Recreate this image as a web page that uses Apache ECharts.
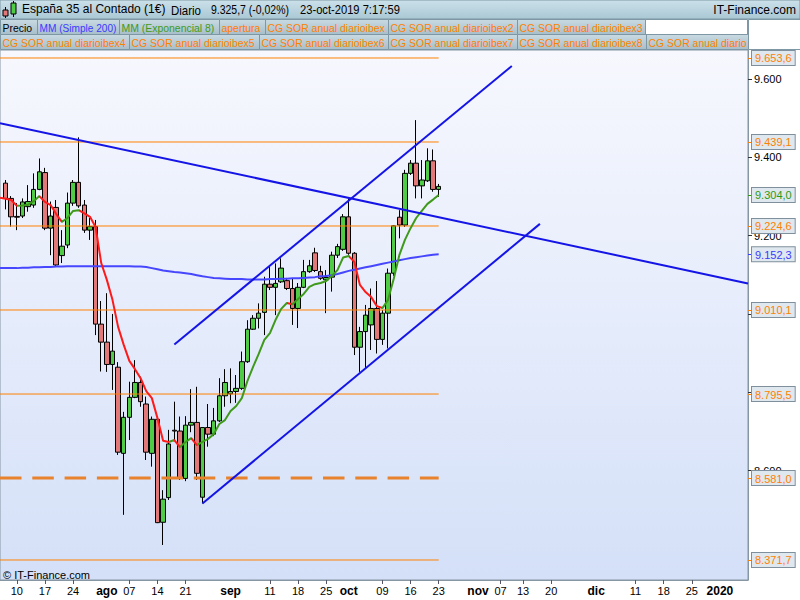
<!DOCTYPE html>
<html><head><meta charset="utf-8">
<script src="https://cdn.jsdelivr.net/npm/echarts@6/dist/echarts.min.js"></script>
<style>html,body{margin:0;padding:0;background:#fff}#c{width:800px;height:600px}</style>
</head><body><div id="c"></div>
<script>
// ---------- DATA ----------
const axisFirstDay = '2019-07-05';
const axisLastDay = '2020-01-08';
const candleFirstDay = '2019-07-08';
const maFirstDay = '2019-07-05';
const lastCandleDay = '2019-10-23';

const open = [9334,9295,9249,9250,9274,9278,9318,9361,9219,9272,
 9149,9176,9283,9336,9278,9214,9223,8974,8928,8871,
 8864,8644,8736,8787,8825,8770,8644,8731,8468,8531,
 8703,8701,8580,8716,8723,8532,8710,8693,8727,8791,
 8796,8802,8810,8878,8961,8989,9004,9076,9068,9082,
 9085,9065,9014,9068,9108,9156,9108,9087,9094,9150,
 9165,9248,9155,8915,8955,8972,9014,8935,9002,9104,
 9247,9227,9359,9385,9327,9340,9391,9318];
const close = [9295,9248,9247,9286,9287,9318,9363,9219,9250,9125,
 9173,9283,9336,9276,9214,9223,8974,8928,8871,8905,
 8647,8736,8787,8825,8776,8647,8731,8467,8527,8668,
 8701,8582,8716,8723,8593,8710,8693,8727,8791,8825,
 8802,8810,8878,8961,8989,9002,9076,9068,9078,9117,
 9065,9014,9068,9108,9123,9111,9091,9093,9150,9172,
 9248,9155,8915,8955,8997,9014,8935,9002,9104,9225,
 9227,9359,9385,9327,9342,9391,9318,9325.7];
const high = [9342,9301,9283,9295,9329,9359,9397,9373,9287,9291,
 9214,9310,9342,9451,9291,9245,9240,9033,9053,9000,
 8877,8750,8827,8882,8840,8789,8738,8739,8550,8704,
 8776,8738,8739,8808,8814,8711,8770,8760,8836,8859,
 8861,8844,8904,8984,8997,9027,9095,9121,9129,9142,
 9092,9091,9079,9138,9138,9169,9123,9112,9159,9179,
 9255,9295,9158,8967,9023,9065,9084,9010,9116,9227,
 9265,9368,9393,9495,9393,9423,9420,9332];
const low = [9267,9223,9214,9245,9261,9271,9316,9214,9150,9120,
 9130,9168,9276,9271,9207,9189,8946,8853,8852,8806,
 8640,8487,8678,8785,8763,8627,8610,8466,8410,8525,
 8678,8576,8573,8698,8576,8516,8661,8688,8724,8763,
 8772,8773,8806,8875,8959,8963,8946,9061,8997,9079,
 9061,8972,8964,9066,9105,9107,9087,9002,9057,9143,
 9161,9151,8895,8852,8861,8908,8899,8921,8912,9097,
 9193,9222,9355,9295,9295,9337,9312,9299];
const sma200 = [9117,9117,9117,9117,9118,9118,9119,9119,9120,9120,9121,
 9121,9122,9122,9122,9122,9122,9122,9122,9122,9122,
 9122,9122,9122,9121,9121,9120,9117,9114,9111,9109,
 9107,9106,9104,9102,9099,9096,9094,9092,9091,9090,
 9089,9089,9089,9088,9088,9088,9088,9089,9089,9090,
 9090,9091,9091,9092,9093,9094,9096,9097,9099,9102,
 9106,9110,9113,9116,9119,9122,9125,9128,9131,9134,
 9137,9140,9143,9145,9147,9149,9151,9152.3];
const ema8 = [9297,9294,9291,9276,9277,9279,9288,9301,9286,9278,9255,
 9235,9245,9263,9265,9257,9248,9222,9130,9087,9036,
 8967,8921,8880,8859,8836,8803,8785,8734,8676,8673,
 8678,8660,8673,8683,8665,8673,8681,8693,8719,8729,
 8752,8765,8785,8829,8865,8898,8934,8951,8985,9013,
 9028,9025,9038,9051,9069,9076,9079,9084,9097,9112,
 9144,9148,9133,9074,9056,9043,9020,9015,9036,9089,
 9150,9189,9219,9245,9263,9281,9292,9304];

const levels = [9653.6, 9439.1, 9224.6, 9010.1, 8795.5, 8581.0, 8371.7];
const dashedLevel = 8581.0;
const trendLines = [
  [['2019-07-05', 9487], ['2020-01-08', 9078]],
  [['2019-08-19', 8922], ['2019-11-11', 9633]],
  [['2019-08-26', 8516], ['2019-11-18', 9230]]
];
const yTickValues = [8600, 8800, 9000, 9200, 9400, 9600];
const yLabelValues = [8600, 9200, 9400, 9600];
const xTickDates = ['2019-07-10','2019-07-17','2019-07-24','2019-08-01','2019-08-07','2019-08-14','2019-08-21',
 '2019-09-02','2019-09-11','2019-09-18','2019-09-25','2019-10-01','2019-10-09','2019-10-16','2019-10-23',
 '2019-11-01','2019-11-07','2019-11-13','2019-11-20','2019-12-02','2019-12-11','2019-12-18','2019-12-25','2020-01-01'];
const xTickLabels = ['10','17','24','ago','07','14','21','sep','11','18','25','oct','09','16','23',
 'nov','07','13','20','dic','11','18','25','2020'];
const boldTickLabels = ['ago','sep','oct','nov','dic','2020'];

const headerTitle = 'España 35 al Contado (1€)';
const headerParts = ['Diario', '9.325,7 (-0,02%)', '23-oct-2019 7:17:59'];
const legendRow1 = [['Precio','#000000'],['MM (Simple 200)','#3a3aff'],['MM (Exponencial 8)','#3f9a1c'],['apertura','#ff8000'],
 ['CG SOR anual diarioibex','#ff8000'],['CG SOR anual diarioibex2','#ff8000'],['CG SOR anual diarioibex3','#ff8000']];
const legendRow2 = [['CG SOR anual diarioibex4','#ff8000'],['CG SOR anual diarioibex5','#ff8000'],['CG SOR anual diarioibex6','#ff8000'],
 ['CG SOR anual diarioibex7','#ff8000'],['CG SOR anual diarioibex8','#ff8000'],['CG SOR anual diarioibex9','#ff8000']];

// ---------- BUILD ----------
const FONT = '"Liberation Sans", Arial, sans-serif';
const mctx = document.createElement('canvas').getContext('2d');
function textW(t, font) { mctx.font = font; return mctx.measureText(t).width; }
function weekdays(a, b) {
  const out = []; let d = new Date(a + 'T00:00:00Z'); const e = new Date(b + 'T00:00:00Z');
  while (d <= e) { const w = d.getUTCDay(); if (w !== 0 && w !== 6) out.push(d.toISOString().slice(0, 10)); d = new Date(d.getTime() + 86400000); }
  return out;
}
const cats = weekdays(axisFirstDay, axisLastDay);
const cOff = cats.indexOf(candleFirstDay);
const mOff = cats.indexOf(maFirstDay);
const pad = (arr, off) => cats.map((c, i) => (i - off >= 0 && i - off < arr.length) ? arr[i - off] : '-');
const candleData = cats.map((c, i) => { const k = i - cOff; return (k >= 0 && k < open.length) ? [open[k], close[k], low[k], high[k]] : '-'; });

const fmtInt = v => String(Math.round(v)).replace(/\B(?=(\d{3})+(?!\d))/g, '.');
const fmtDec = v => { const s = v.toFixed(1).split('.'); return s[0].replace(/\B(?=(\d{3})+(?!\d))/g, '.') + ',' + s[1]; };

// EMA colour pieces by slope
const emaPieces = [];
for (let k = 0; k < ema8.length - 1; k++) {
  const col = ema8[k + 1] >= ema8[k] ? '#3f9a1c' : '#ff1a1a';
  const a = k + mOff, b = k + 1 + mOff;
  const last = emaPieces[emaPieces.length - 1];
  if (last && last.color === col) last.lte = b; else emaPieces.push({ gte: a, lte: b, color: col });
}

const tickMap = {}; xTickDates.forEach((d, i) => tickMap[d] = xTickLabels[i]);

const YMIN = 8320.6, YMAX = 9674.0;
const boxRich = (c) => ({ color: c, fontSize: 11, fontFamily: FONT, backgroundColor: '#dfe7ef', borderColor: '#7f909c', borderWidth: 1, padding: [2, 3, 1, 3], lineHeight: 11 });
function boxAxis(values, color) {
  return { type: 'value', position: 'right', min: YMIN, max: YMAX, splitLine: { show: false }, axisLine: { show: false },
    axisTick: { show: true, customValues: values, length: 4, lineStyle: { color: color } },
    axisLabel: { customValues: values, margin: 4, formatter: v => '{b|' + fmtDec(v) + '}', rich: { b: boxRich(color) } } };
}

const series = [];
series.push({ type: 'candlestick', data: candleData, barWidth: 5, z: 2,
  itemStyle: { color: '#4fcb45', color0: '#e27878', borderColor: '#000', borderColor0: '#000', borderWidth: 1 } });
levels.forEach(v => {
  const dashed = v === dashedLevel;
  series.push({ type: 'line', data: [[axisFirstDay, v], [lastCandleDay, v]], symbol: 'none', silent: true, z: 3,
    lineStyle: { color: dashed ? '#e8822c' : '#ff8000', width: dashed ? 3 : 1, type: dashed ? [21.5, 10.8] : 'solid' } });
});
series.push({ type: 'line', data: pad(sma200, mOff), symbol: 'none', z: 4, lineStyle: { color: '#4646ff', width: 2 } });
series.push({ type: 'line', data: pad(ema8, mOff), symbol: 'none', z: 5, lineStyle: { width: 2 } });
const emaSeriesIndex = series.length - 1;
trendLines.forEach(t => series.push({ type: 'line', data: t, symbol: 'none', z: 6, lineStyle: { color: '#1414e6', width: 2 } }));

// graphic (header, legend boxes)
const grad = (a, b) => new echarts.graphic.LinearGradient(0, 0, 0, 1, [{ offset: 0, color: a }, { offset: 1, color: b }]);
const graphics = [];
graphics.push({ type: 'rect', shape: { x: 0, y: 0, width: 800, height: 19 }, style: { fill: grad('#cce1ea', '#a9c7d4'), stroke: '#7d97a4', lineWidth: 1 }, z: 1 });
// candle icon
graphics.push({ type: 'line', shape: { x1: 5.5, y1: 7, x2: 5.5, y2: 18 }, style: { stroke: '#000', lineWidth: 1 }, z: 2 });
graphics.push({ type: 'rect', shape: { x: 3, y: 10, width: 5, height: 6 }, style: { fill: '#e27878', stroke: '#000', lineWidth: 1 }, z: 3 });
graphics.push({ type: 'line', shape: { x1: 13.5, y1: 1, x2: 13.5, y2: 17 }, style: { stroke: '#000', lineWidth: 1 }, z: 2 });
graphics.push({ type: 'rect', shape: { x: 11, y: 3, width: 5, height: 11 }, style: { fill: '#4fcb45', stroke: '#000', lineWidth: 1 }, z: 3 });
const hFont = '12px ' + FONT;
const hx = [171, 211, 300], hw = [30, 78, 100];
headerParts.forEach((t, i) => {
  const s = Math.min(1, hw[i] / textW(t, hFont));
  graphics.push({ type: 'text', x: hx[i], y: 10, scaleX: s, style: { text: t, fill: '#000', font: hFont, verticalAlign: 'middle' }, z: 4 });
});
graphics.push({ type: 'text', x: 796, y: 10, style: { text: 'IT-Finance.com', fill: '#000', font: hFont, align: 'right', verticalAlign: 'middle' }, z: 4 });
const lFont = '11px ' + FONT;
const row1x = [0, 37, 119, 219, 265, 388, 517], row1w = [37, 82, 100, 46, 123, 129, 128];
const row2x = [0, 129, 259, 388, 517, 646], row2w = [129, 130, 129, 129, 129, 102];
function legendBox(item, x, w, y, clipOnly) {
  graphics.push({ type: 'rect', shape: { x: x + 0.5, y: y + 0.5, width: w, height: 15 }, style: { fill: grad('#c9dae2', '#a7bfca'), stroke: '#7d97a4', lineWidth: 1 }, z: 5 });
  const s = clipOnly ? 0.95 : Math.min(0.95, (w - 5) / textW(item[0], lFont));
  graphics.push({ type: 'text', x: x + 2.5, y: y + 8.5, scaleX: s, style: { text: item[0], fill: item[1], font: lFont, verticalAlign: 'middle', width: (w - 2) / s, overflow: 'truncate', ellipsis: '' }, z: 6 });
}
legendRow1.forEach((it, i) => legendBox(it, row1x[i], row1w[i], 19, false));
legendRow2.forEach((it, i) => legendBox(it, row2x[i], row2w[i], 34, i === legendRow2.length - 1));
graphics.push({ type: 'rect', shape: { x: 645.5, y: 19.5, width: 102, height: 15 }, style: { fill: '#ffffff', stroke: '#7d97a4', lineWidth: 1 }, z: 5 });
graphics.push({ type: 'rect', shape: { x: 748.5, y: 19.5, width: 52, height: 30 }, style: { fill: '#ffffff', stroke: '#7d97a4', lineWidth: 1 }, z: 7 });
graphics.push({ type: 'text', x: 3, y: 575, style: { text: '© IT-Finance.com', fill: '#000', font: '11px ' + FONT, verticalAlign: 'middle' }, z: 100 });

const option = {
  animation: false,
  backgroundColor: '#ffffff',
  title: { text: headerTitle, left: 22, top: 3, padding: 0, textStyle: { fontSize: 12, fontWeight: 'normal', color: '#000', fontFamily: FONT } },
  grid: { left: 0, right: 52, top: 50, bottom: 20, show: true, borderColor: '#8696a3', borderWidth: 1,
    backgroundColor: grad('#f7f8fe', '#d4e0f8') },
  xAxis: { type: 'category', data: cats, boundaryGap: false,
    axisLine: { show: true, lineStyle: { color: '#8696a3' } },
    axisTick: { show: true, length: 4, interval: (i, v) => tickMap[v] !== undefined && boldTickLabels.indexOf(tickMap[v]) < 0, lineStyle: { color: '#556' } },
    axisLabel: { interval: (i, v) => tickMap[v] !== undefined, margin: 5, color: '#000', fontSize: 11, fontFamily: FONT,
      formatter: v => { const t = tickMap[v]; return boldTickLabels.indexOf(t) >= 0 ? '{m|' + t + '}' : t; },
      rich: { m: { fontWeight: 'bold', fontSize: 12, fontFamily: FONT, color: '#000' } } },
    splitLine: { show: false } },
  yAxis: [
    { type: 'value', position: 'right', min: YMIN, max: YMAX, splitLine: { show: false },
      axisLine: { show: true, lineStyle: { color: '#8696a3' } },
      axisTick: { show: true, customValues: yTickValues, length: 4, lineStyle: { color: '#333' } },
      axisLabel: { customValues: yLabelValues, margin: 6, color: '#000', fontSize: 11, fontFamily: FONT, formatter: v => fmtInt(v) } },
    boxAxis(levels, '#ff8000'),
    boxAxis([ema8[ema8.length - 1]], '#2e9a10'),
    boxAxis([sma200[sma200.length - 1]], '#3a3aff')
  ],
  visualMap: { show: false, type: 'piecewise', dimension: 0, seriesIndex: emaSeriesIndex, pieces: emaPieces },
  graphic: { elements: graphics },
  series: series
};
const chart = echarts.init(document.getElementById('c'), null, { renderer: 'svg', width: 800, height: 600 });
chart.setOption(option);
</script>
</body></html>
